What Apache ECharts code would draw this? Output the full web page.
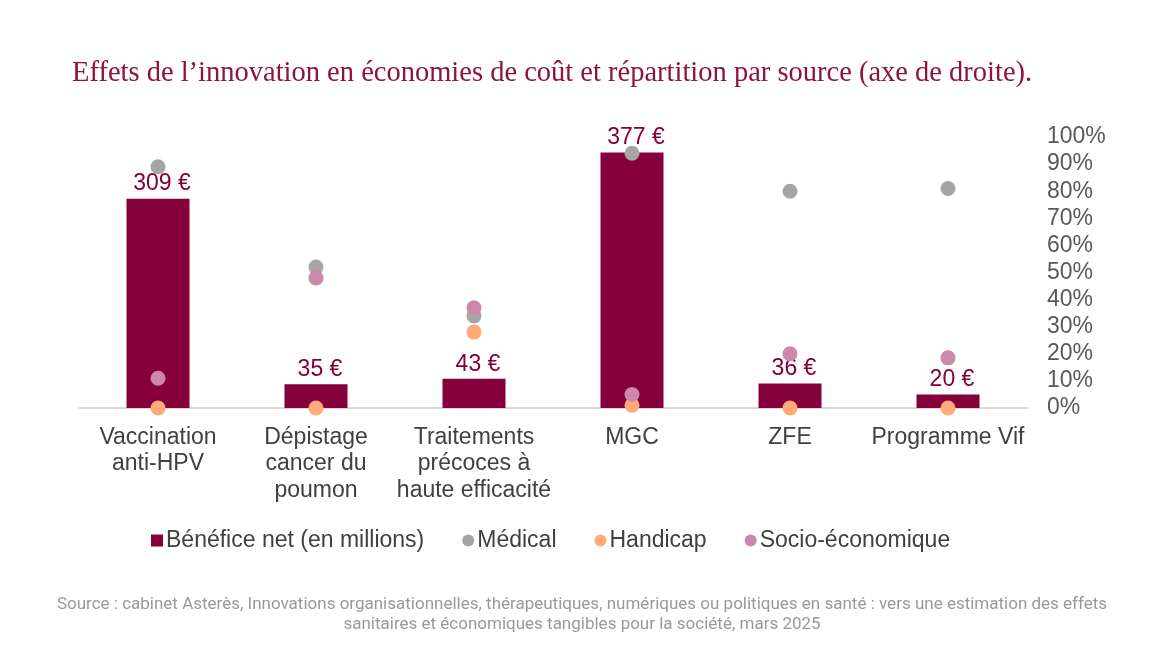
<!DOCTYPE html>
<html>
<head>
<meta charset="utf-8">
<script src="https://cdn.jsdelivr.net/npm/echarts@6/dist/echarts.min.js"></script>
<style>
  html, body { margin: 0; padding: 0; background: #fff; }
  #chart { width: 1164px; height: 660px; }
</style>
</head>
<body>
<div id="chart"></div>
<script>
// données
const categories = ['Vaccination\nanti-HPV', 'Dépistage\ncancer du\npoumon', 'Traitements\nprécoces à\nhaute efficacité', 'MGC', 'ZFE', 'Programme Vif'];
const benefice = [309, 35, 43, 377, 36, 20];
const medical = [0.89, 0.52, 0.34, 0.94, 0.80, 0.81];
const handicap = [0, 0, 0.28, 0.01, 0, 0];
const socio = [0.11, 0.48, 0.37, 0.05, 0.20, 0.185];
const pctTicks = [0, 0.1, 0.2, 0.3, 0.4, 0.5, 0.6, 0.7, 0.8, 0.9, 1];

const chart = echarts.init(document.getElementById('chart'));

const dot = (name, data, color) => ({
  name: name,
  type: 'scatter',
  yAxisIndex: 1,
  data: data,
  symbol: 'circle',
  symbolSize: 15,
  itemStyle: { color: color, opacity: 1 },
  z: 5
});

chart.setOption({
  animation: false,
  title: {
    text: 'Effets de l’innovation en économies de coût et répartition par source (axe de droite).',
    left: 67,
    top: 54,
    textStyle: {
      fontFamily: 'Liberation Serif',
      fontWeight: 'normal',
      fontSize: 28.5,
      color: '#8B1540'
    }
  },
  grid: {
    left: 79,
    right: 137,
    top: 137,
    bottom: 252,
    containLabel: false
  },
  legend: {
    top: 524,
    left: 146,
    itemGap: 38,
    itemWidth: 12,
    itemHeight: 12,
    textStyle: { fontFamily: 'Liberation Sans', fontSize: 23, color: '#404040', padding: [0, 0, 0, -2] },
    data: [
      { name: 'Bénéfice net (en millions)', icon: 'rect' },
      { name: 'Médical', icon: 'circle' },
      { name: 'Handicap', icon: 'circle' },
      { name: 'Socio-économique', icon: 'circle' }
    ]
  },
  xAxis: {
    type: 'category',
    data: categories,
    axisTick: { show: false },
    axisLine: { lineStyle: { color: '#D9D9D9', width: 2 } },
    axisLabel: {
      interval: 0,
      margin: 16,
      fontFamily: 'Liberation Sans',
      fontSize: 23,
      lineHeight: 26.5,
      color: '#404040'
    }
  },
  yAxis: [
    {
      type: 'value',
      min: 0,
      max: 400,
      show: false,
      splitLine: { show: false }
    },
    {
      type: 'value',
      position: 'right',
      min: 0,
      max: 1,
      interval: 0.1,
      splitLine: { show: false },
      axisLine: { show: false },
      axisTick: { show: false },
      axisLabel: {
        margin: 20,
        fontFamily: 'Liberation Sans',
        fontSize: 23,
        color: '#595959',
        formatter: v => Math.round(v * 100) + '%'
      }
    }
  ],
  series: [
    {
      name: 'Bénéfice net (en millions)',
      type: 'bar',
      data: benefice,
      barWidth: 63,
      itemStyle: { color: '#85003A' },
      label: {
        show: true,
        position: 'top',
        distance: 3,
        offset: [4, 0],
        fontFamily: 'Liberation Sans',
        fontSize: 23,
        color: '#85003A',
        formatter: p => p.value + ' €'
      },
      z: 2
    },
    dot('Médical', medical, '#A5A5A5'),
    dot('Handicap', handicap, '#FFAA77'),
    dot('Socio-économique', socio, '#CC88AA')
  ],
  graphic: [
    {
      type: 'text',
      x: 582,
      y: 595,
      style: {
        text: 'Source : cabinet Asterès, Innovations organisationnelles, thérapeutiques, numériques ou politiques en santé : vers une estimation des effets\nsanitaires et économiques tangibles pour la société, mars 2025',
        fontFamily: 'Roboto',
        fontSize: 17,
        lineHeight: 20,
        fill: '#999999',
        textAlign: 'center',
        align: 'center'
      }
    }
  ]
});
</script>
</body>
</html>
